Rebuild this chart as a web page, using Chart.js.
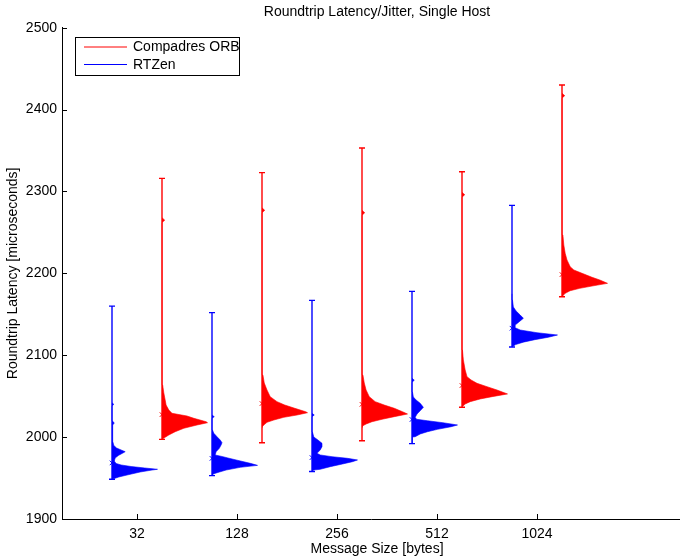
<!DOCTYPE html>
<html><head><meta charset="utf-8">
<script src="https://cdn.jsdelivr.net/npm/chart.js@4.4.1/dist/chart.umd.min.js"></script>
<style>html,body{margin:0;padding:0;background:#fff;overflow:hidden}canvas{display:block}</style>
</head><body>
<canvas id="c" width="680" height="559"></canvas>
<script>
// ---------------- data ----------------
const categories = ['32', '128', '256', '512', '1024'];
const seriesNames = ['Compadres ORB', 'RTZen'];
const chartTitle = 'Roundtrip Latency/Jitter, Single Host';
const xTitle = 'Message Size [bytes]';
const yTitle = 'Roundtrip Latency [microseconds]';
const yMin = 1900, yMax = 2500, yStep = 100;

// Compadres ORB (red)
const compadresMin  = [1997.3, 1993.2, 1995.6, 2036.4, 2171.5];
const compadresMax  = [2316, 2323, 2353, 2324, 2430];
const compadresMean = [2027.5, 2041, 2040, 2063, 2198.5];
const compadresBins = [
  [1997.3, 1999.8, 2002.6, 2006.6, 2010.8, 2014.8, 2017.6, 2018.8, 2023.0, 2025.8, 2029.1, 2033.1, 2039.2, 2045.3, 2053.9, 2063.6, 2075.9, 2090, 2262, 2265, 2268],
  [2012, 2013, 2014.8, 2018.1, 2020.9, 2024.2, 2027, 2029.8, 2031.0, 2035.2, 2039.2, 2043.3, 2049.4, 2057.5, 2066.1, 2075.9, 2088.1, 2100, 2274, 2277, 2280],
  [2012, 2013.6, 2016, 2018.8, 2021.8, 2025, 2028.2, 2031, 2035.2, 2039.2, 2043.3, 2049.4, 2057.5, 2066.1, 2075.9, 2088.1, 2100, 2271, 2274, 2277],
  [2037, 2040.4, 2043.3, 2046.6, 2049.4, 2052.7, 2057.5, 2061.6, 2065.7, 2069.8, 2073.8, 2082, 2094.2, 2106.4, 2120, 2293, 2296, 2299],
  [2171.5, 2175.6, 2178.8, 2181.7, 2184.5, 2187.8, 2191.9, 2195.2, 2200.1, 2204.1, 2208.1, 2216.3, 2224.5, 2234.6, 2246.8, 2259, 2270, 2414, 2417, 2420]
];
const compadresCounts = [
  [0, 0.07, 0.15, 0.29, 0.48, 0.77, 1.0, 0.97, 0.7, 0.55, 0.22, 0.15, 0.09, 0.07, 0.04, 0.015, 0.005, 0, 0, 0.06, 0],
  [0, 0.01, 0.04, 0.11, 0.26, 0.48, 0.77, 1.0, 0.96, 0.72, 0.5, 0.33, 0.18, 0.11, 0.05, 0.02, 0.005, 0, 0, 0.06, 0],
  [0, 0.01, 0.09, 0.22, 0.44, 0.71, 1.0, 0.89, 0.71, 0.49, 0.29, 0.16, 0.09, 0.05, 0.02, 0.005, 0, 0, 0.06, 0],
  [0, 0.07, 0.18, 0.4, 0.66, 1.0, 0.77, 0.55, 0.33, 0.2, 0.11, 0.07, 0.03, 0.01, 0, 0, 0.06, 0],
  [0, 0.07, 0.18, 0.39, 0.66, 1.0, 0.83, 0.66, 0.44, 0.26, 0.18, 0.11, 0.07, 0.04, 0.02, 0.005, 0, 0, 0.06, 0]
];

// RTZen (blue)
const rtzenMin  = [1948.5, 1953, 1958, 1992, 2110];
const rtzenMax  = [2160, 2152, 2167, 2178, 2283];
const rtzenMean = [1968.5, 1974, 1975, 2021.5, 2133];
const rtzenBins = [
  [1948.5, 1951.3, 1953.7, 1957.4, 1959.8, 1960.7, 1962.3, 1964.1, 1966.0, 1967.8, 1970.8, 1974.5, 1977.6, 1980.6, 1982.2, 1984.3, 1986.7, 1989.8, 1994.0, 2008.7, 2014.8, 2017.2, 2019.7, 2038, 2040, 2042],
  [1953, 1955, 1956.5, 1959.8, 1963.1, 1965.5, 1968, 1972.1, 1974.5, 1976.1, 1978.2, 1982.2, 1986.3, 1990.4, 1993.2, 1996.5, 2000.5, 2004.7, 2008.7, 2023, 2025, 2027],
  [1958, 1959.8, 1960.7, 1963.9, 1967.2, 1970, 1972.1, 1974.1, 1976.1, 1978.2, 1980.2, 1984.3, 1988.3, 1992.4, 1996.5, 2000.1, 2006.2, 2025, 2027, 2029],
  [1992, 2000.1, 2000.5, 2003.8, 2006.6, 2009.5, 2012.7, 2014.8, 2017.6, 2020, 2021.8, 2024.2, 2028.2, 2032.2, 2036.4, 2041.3, 2045.3, 2049, 2055.1, 2067, 2069.5, 2072],
  [2110, 2113, 2116, 2119, 2122, 2124.7, 2127.5, 2130.8, 2133.3, 2136.9, 2141, 2145.1, 2149.1, 2154, 2158.9, 2167.5, 2175]
];
const rtzenCounts = [
  [0, 0.15, 0.33, 0.62, 0.88, 1.0, 0.72, 0.42, 0.2, 0.09, 0.05, 0.07, 0.14, 0.24, 0.29, 0.2, 0.1, 0.04, 0.02, 0.01, 0.02, 0.05, 0.01, 0, 0.04, 0],
  [0, 0.03, 0.11, 0.31, 0.62, 1.0, 0.84, 0.53, 0.35, 0.24, 0.07, 0.09, 0.16, 0.2, 0.22, 0.18, 0.11, 0.04, 0.01, 0, 0.05, 0],
  [0, 0.04, 0.18, 0.4, 0.67, 0.89, 1.0, 0.78, 0.44, 0.18, 0.11, 0.18, 0.22, 0.22, 0.13, 0.04, 0.01, 0, 0.05, 0],
  [0, 0.01, 0.07, 0.18, 0.34, 0.56, 0.86, 1.0, 0.68, 0.34, 0.1, 0.07, 0.11, 0.18, 0.25, 0.18, 0.09, 0.03, 0.01, 0, 0.05, 0],
  [0, 0.08, 0.25, 0.5, 0.8, 1.0, 0.55, 0.18, 0.08, 0.07, 0.16, 0.25, 0.18, 0.09, 0.03, 0.01, 0]
];

// ---------------- layout / style ----------------
const RED = '#ff0000', BLUE = '#0000ff';
const xAxisMin = 0.25, xAxisMax = 6.43;      // visible part of the x axis
const xAxisFullMax = 6.55;                  // axis continues slightly past the crop
const offsetBlue = -0.25, offsetRed = 0.25; // position of each series around its category
const histWidth = 0.455;                    // width of a histogram peak in x units
const FONT = '"Liberation Sans", Arial, Helvetica, sans-serif';

Chart.defaults.font.family = FONT;
Chart.defaults.font.size = 14;
Chart.defaults.color = '#000';

function buildSeries(color, offset, mins, maxs, means, bins, counts) {
  const out = [];
  categories.forEach((c, i) => {
    const base = i + 1 + offset;
    out.push({
      data: bins[i].map((b, k) => ({x: base + counts[i][k] * histWidth, y: b})),
      showLine: true, fill: 'shape', backgroundColor: color, borderColor: color,
      borderWidth: 0.6, pointRadius: 0, tension: 0
    });
    out.push({
      data: [{x: base, y: mins[i]}, {x: base, y: maxs[i]}],
      showLine: true, fill: false, borderColor: color, borderWidth: 1.4,
      pointStyle: 'line', pointRadius: 3, pointBorderWidth: 1.4, pointBorderColor: color, pointBackgroundColor: color
    });
    out.push({
      data: [{x: base, y: means[i]}],
      showLine: false, pointStyle: 'crossRot', pointRadius: 3.2, pointBorderWidth: 1,
      pointBorderColor: color, pointBackgroundColor: color
    });
  });
  return out;
}

const datasets = [
  ...buildSeries(RED, offsetRed, compadresMin, compadresMax, compadresMean, compadresBins, compadresCounts),
  ...buildSeries(BLUE, offsetBlue, rtzenMin, rtzenMax, rtzenMean, rtzenBins, rtzenCounts)
];

const decor = {
  id: 'decor',
  afterDraw(chart) {
    const {ctx, chartArea: a, scales: {x, y}} = chart;
    ctx.save();
    // inward ticks (MATLAB style)
    ctx.strokeStyle = '#000';
    ctx.lineWidth = 1;
    ctx.beginPath();
    y.ticks.forEach(t => {
      const py = Math.round(y.getPixelForValue(t.value)) + 0.5;
      ctx.moveTo(a.left, py); ctx.lineTo(a.left + 5, py);
    });
    x.ticks.forEach(t => {
      const px = Math.round(x.getPixelForValue(t.value)) + 0.5;
      ctx.moveTo(px, a.bottom); ctx.lineTo(px, a.bottom - 5);
    });
    ctx.stroke();

    // titles
    ctx.fillStyle = '#000';
    ctx.font = '14px ' + FONT;
    ctx.textAlign = 'center';
    ctx.textBaseline = 'middle';
    const cx = x.getPixelForValue((xAxisMin + xAxisFullMax) / 2);
    ctx.fillText(chartTitle, cx, 12);
    ctx.fillText(xTitle, cx, 549);
    ctx.save();
    ctx.translate(13, (a.top + a.bottom) / 2);
    ctx.rotate(-Math.PI / 2);
    ctx.fillText(yTitle, 0, 0);
    ctx.restore();

    // legend box
    const lx = 75.5, ly = 37.5, lw = 164, lh = 38;
    ctx.fillStyle = '#fff';
    ctx.fillRect(lx, ly, lw, lh);
    ctx.strokeStyle = '#000';
    ctx.strokeRect(lx, ly, lw, lh);
    const entries = [[seriesNames[0], RED, 47], [seriesNames[1], BLUE, 64.5]];
    ctx.textAlign = 'left';
    entries.forEach(([name, col, yy]) => {
      ctx.strokeStyle = col;
      ctx.beginPath();
      ctx.moveTo(84, yy); ctx.lineTo(127, yy);
      ctx.stroke();
      ctx.fillStyle = '#000';
      ctx.fillText(name, 133, yy + 0.5);
    });
    ctx.restore();
  }
};

new Chart(document.getElementById('c'), {
  type: 'scatter',
  data: {datasets},
  options: {
    responsive: false,
    animation: false,
    events: [],
    layout: {autoPadding: false, padding: {top: 27.7, left: 0, right: 0, bottom: 0}},
    plugins: {legend: {display: false}, tooltip: {enabled: false}, title: {display: false}},
    scales: {
      x: {
        type: 'linear', min: xAxisMin, max: xAxisMax,
        afterBuildTicks: s => { s.ticks = categories.map((c, i) => ({value: i + 1})); },
        afterFit: s => { s.height = 40; },
        ticks: {callback: v => categories[Math.round(v) - 1] ?? '', padding: 7, maxRotation: 0, autoSkip: false, color: '#000'},
        grid: {display: false, drawTicks: false},
        border: {display: true, color: '#000', width: 1}
      },
      y: {
        type: 'linear', min: yMin, max: yMax,
        ticks: {stepSize: yStep, padding: 5, color: '#000', callback: v => String(v)},
        afterFit: s => { s.width = 62; },
        grid: {display: false, drawTicks: false},
        border: {display: true, color: '#000', width: 1}
      }
    }
  },
  plugins: [decor]
});
</script>
</body></html>
